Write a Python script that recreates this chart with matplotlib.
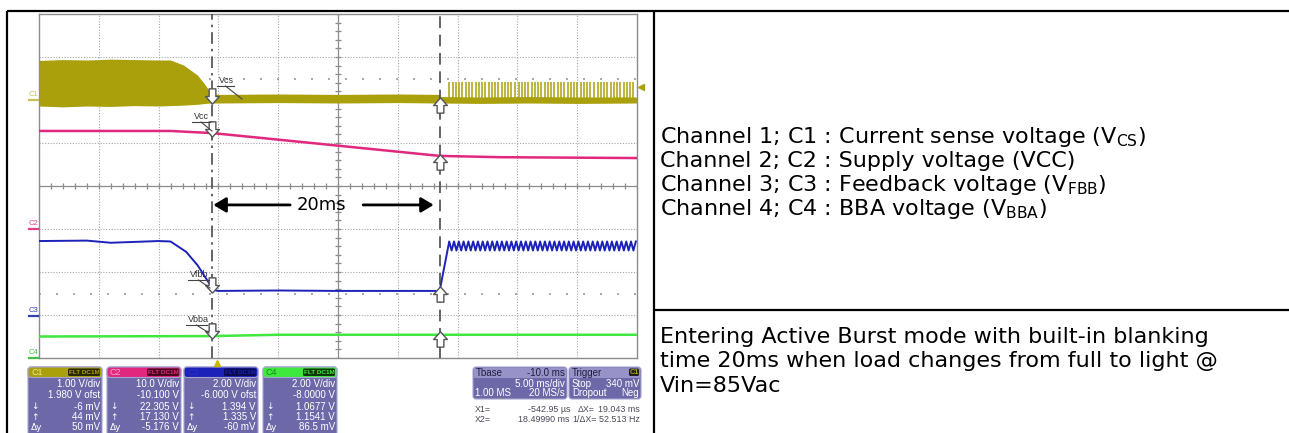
import numpy as np
import matplotlib.pyplot as plt
from matplotlib.path import Path
from matplotlib.patches import FancyBboxPatch, Rectangle

# scope screen: time in ms (5 ms/div, 10 div), levels in screen divisions (8 div)
t_left, t_right = -15.0, 35.0
x1_cursor, x2_cursor = -0.543, 18.5

# C1 current sense, envelope of the switching band
c1_t = [-15, -13, -11, -9, -7, -5, -4.0, -2.9, -1.75, -1.1, -0.6, 0, 5, 10, 15, 18.5]
c1_hi = [2.92, 2.94, 2.93, 2.95, 2.94, 2.93, 2.93, 2.81, 2.58, 2.35, 2.15, 2.13, 2.14, 2.13, 2.14, 2.13]
c1_lo = [1.86, 1.84, 1.86, 1.85, 1.87, 1.86, 1.87, 1.88, 1.90, 1.92, 1.93, 1.93, 1.94, 1.93, 1.94, 1.93]
c1b_t = [18.5, 22, 26, 30, 35]
c1b_hi = [2.08, 2.07, 2.08, 2.07, 2.07]
c1b_lo = [1.93, 1.92, 1.93, 1.92, 1.93]
spike_t = [19.3, 19.6, 19.85, 20.1, 20.4, 20.7, 20.95, 21.2, 21.5, 21.8, 22.05, 22.3,
           22.6, 22.9, 23.15, 23.4, 23.7, 24.0, 24.25, 24.5, 24.8, 25.1, 25.35, 25.6,
           25.9, 26.2, 26.45, 26.7, 27.0, 27.3, 27.55, 27.8, 28.1, 28.4, 28.65, 28.9,
           29.2, 29.5, 29.75, 30.0, 30.3, 30.6, 30.85, 31.1, 31.4, 31.7, 31.95, 32.2,
           32.5, 32.8, 33.05, 33.3, 33.6, 33.9, 34.15, 34.4, 34.7]
spike_base, spike_top = 2.05, 2.42

# C2 supply voltage
c2_t = [-15, -4, -0.5, 3.5, 8.5, 13.5, 18.5, 23.5, 35]
c2_v = [1.28, 1.28, 1.23, 1.12, 0.98, 0.84, 0.70, 0.67, 0.65]

# C3 feedback voltage
c3_t = [-15, -11, -9, -7, -5, -4, -2.7, -1.75, -1.1, -0.4, 0, 5, 10, 15, 18.5]
c3_v = [-1.28, -1.27, -1.32, -1.30, -1.28, -1.29, -1.53, -1.84, -2.12, -2.42, -2.44,
        -2.43, -2.44, -2.44, -2.44]
saw_peak_t = [19.3, 19.7, 20.1, 20.5, 20.9, 21.3, 21.7, 22.1, 22.5, 22.9, 23.3, 23.7,
              24.1, 24.5, 24.9, 25.3, 25.7, 26.1, 26.5, 26.9, 27.3, 27.7, 28.1, 28.5,
              28.9, 29.3, 29.7, 30.1, 30.5, 30.9, 31.3, 31.7, 32.1, 32.5, 32.9, 33.3,
              33.7, 34.1, 34.5, 34.9]
saw_trough_t = [19.5, 19.9, 20.3, 20.7, 21.1, 21.5, 21.9, 22.3, 22.7, 23.1, 23.5, 23.9,
                24.3, 24.7, 25.1, 25.5, 25.9, 26.3, 26.7, 27.1, 27.5, 27.9, 28.3, 28.7,
                29.1, 29.5, 29.9, 30.3, 30.7, 31.1, 31.5, 31.9, 32.3, 32.7, 33.1, 33.5,
                33.9, 34.3, 34.7]
saw_hi, saw_lo = -1.29, -1.50

# C4 BBA voltage
c4_t = [-15, -0.5, 5, 35]
c4_v = [-3.50, -3.49, -3.46, -3.46]

# cursor arrow marks (levels per channel)
down_marks = [2.09, 1.33, -2.30, -3.37]
up_marks = [1.88, 0.56, -2.51, -3.56]

ch_colors = ['#aaa00c', '#e0287e', '#1c22b8', '#3ee83e']
ch_names = ['C1', 'C2', 'C3', 'C4']
ch_rows = [['1.00 V/div', '1.980 V ofst', '-6 mV', '44 mV', '50 mV'],
           ['10.0 V/div', '-10.100 V', '22.305 V', '17.130 V', '-5.176 V'],
           ['2.00 V/div', '-6.000 V ofst', '1.394 V', '1.335 V', '-60 mV'],
           ['2.00 V/div', '-8.0000 V', '1.0677 V', '1.1541 V', '86.5 mV']]

desc_lines = [r'Channel 1; C1 : Current sense voltage (V$_{\mathrm{CS}}$)',
              'Channel 2; C2 : Supply voltage (VCC)',
              r'Channel 3; C3 : Feedback voltage (V$_{\mathrm{FBB}}$)',
              r'Channel 4; C4 : BBA voltage (V$_{\mathrm{BBA}}$)']
note_lines = ['Entering Active Burst mode with built-in blanking',
              'time 20ms when load changes from full to light @',
              'Vin=85Vac']

plt.rcParams['mathtext.fontset'] = 'dejavusans'

W, H = 1289, 433
fig = plt.figure(figsize=(W / 100, H / 100), dpi=100)
fig.patch.set_facecolor('white')

# scope screen axes (pixel box 39..637 x 14..358)
ax = fig.add_axes([39 / W, (H - 358) / H, 598 / W, 344 / H], zorder=1)
ax.set_xlim(t_left, t_right)
ax.set_ylim(-4, 4)
ax.set_xticks([])
ax.set_yticks([])
for s in ax.spines.values():
    s.set_color('#8c8c8c')
    s.set_linewidth(1)

gridc = '#a4a4a4'
for t in np.arange(t_left + 5, t_right, 5):
    if t != 10:
        ax.axvline(t, color=gridc, lw=0.8, ls=(0, (1, 1.5)), zorder=0)
for d in range(-3, 4):
    if d != 0:
        ax.axhline(d, color=gridc, lw=0.8, ls=(0, (1, 1.5)), zorder=0)
ax.axhline(0, color='#8c8c8c', lw=0.9, zorder=0)
ax.axvline(10, color='#8c8c8c', lw=0.9, zorder=0)
ax.vlines(np.arange(t_left, t_right + 0.01, 1), -0.07, 0.07, color='#8c8c8c', lw=0.9, zorder=0)
ax.hlines(np.arange(-4, 4.01, 0.2), 9.75, 10.25, color='#8c8c8c', lw=0.9, zorder=0)
ax.axhline(2.49, color='#9a9a9a', lw=1.2, ls=(0, (1.2, 9)), zorder=0)
ax.axhline(-2.51, color='#9a9a9a', lw=1.2, ls=(0, (1.2, 9)), zorder=0)

# traces
ax.fill_between(c1_t, c1_lo, c1_hi, color=ch_colors[0], lw=0, zorder=2)
ax.fill_between(c1b_t, c1b_lo, c1b_hi, color=ch_colors[0], lw=0, zorder=2)
ax.vlines(spike_t, spike_base, spike_top, color=ch_colors[0], lw=1.1, zorder=2)
ax.plot(c2_t, c2_v, color=ch_colors[1], lw=1.8, zorder=3)
saw_t = np.concatenate([saw_peak_t, saw_trough_t])
saw_v = np.concatenate([np.full(len(saw_peak_t), saw_hi), np.full(len(saw_trough_t), saw_lo)])
order = np.argsort(saw_t)
ax.plot(np.concatenate([c3_t, saw_t[order]]), np.concatenate([c3_v, saw_v[order]]),
        color=ch_colors[2], lw=1.4, zorder=3)
ax.plot(c4_t, c4_v, color=ch_colors[3], lw=1.8, zorder=3)

# cursors
ax.axvline(x1_cursor, color='#4a4a4a', lw=1.2, ls=(0, (7, 3, 1.5, 3)), zorder=4)
ax.axvline(x2_cursor, color='#4a4a4a', lw=1.2, ls=(0, (7, 4)), zorder=4)

codes = [Path.MOVETO] + [Path.LINETO] * 6 + [Path.CLOSEPOLY]
down_arrow = Path([(-0.22, 0.5), (0.22, 0.5), (0.22, 0.0), (0.45, 0.0), (0, -0.5),
                   (-0.45, 0.0), (-0.22, 0.0), (-0.22, 0.5)], codes)
up_arrow = Path([(-0.22, -0.5), (0.22, -0.5), (0.22, 0.0), (0.45, 0.0), (0, 0.5),
                 (-0.45, 0.0), (-0.22, 0.0), (-0.22, -0.5)], codes)
ax.plot([x1_cursor] * 4, down_marks, ls='none', marker=down_arrow, ms=11,
        mfc='white', mec='#555555', mew=1, zorder=6)
ax.plot([x2_cursor] * 4, up_marks, ls='none', marker=up_arrow, ms=11,
        mfc='white', mec='#555555', mew=1, zorder=6)

# 20 ms blanking annotation
arrow_kw = dict(arrowstyle='-|>,head_length=0.5,head_width=0.3', lw=2, color='black',
                mutation_scale=15, shrinkA=0, shrinkB=0)
ax.annotate('', xy=(-0.42, -0.44), xytext=(6.0, -0.44), arrowprops=arrow_kw, zorder=7)
ax.annotate('', xy=(18.0, -0.44), xytext=(12.1, -0.44), arrowprops=arrow_kw, zorder=7)
ax.text(8.6, -0.44, '20ms', ha='center', va='center', fontsize=13, zorder=7)

# overlay in pixel coordinates for table, labels and info panels
ov = fig.add_axes([0, 0, 1, 1], zorder=2)
ov.set_xlim(0, W)
ov.set_ylim(H, 0)
ov.axis('off')
ov.patch.set_alpha(0)

for xs, ys in [([7, W], [11, 11]), ([7, 7], [11, H]), ([654, 654], [11, H]),
               ([654, W], [310, 310])]:
    ov.plot(xs, ys, color='black', lw=1.6, solid_capstyle='butt')

# channel ground markers on the left of the screen
for name, col, y in zip(ch_names, ['#c8bf50', '#e0408a', '#3040b0', '#40c040'], [100, 229, 316, 358]):
    ov.text(29, y - 2, name, fontsize=5.5, color=col, ha='left', va='bottom',
            family='Liberation Sans')
    ov.plot([29, 38], [y, y], color=col, lw=1.6)

# trace labels with leader lines
for txt, (tx, ty), (ux0, ux1), end in [('Vcs', (219, 85), (217, 234), (242, 99)),
                                        ('Vcc', (194, 121), (192, 210), (212, 131)),
                                        ('Vfbb', (190, 279), (188, 209), (210, 288)),
                                        ('Vbba', (188, 324), (186, 207), (209, 333))]:
    ov.text(tx, ty, txt, fontsize=6.5, color='#333333', ha='left', va='bottom',
            family='Liberation Sans')
    ov.plot([ux0, ux1], [ty + 1, ty + 1], color='#444444', lw=0.8)
    ov.plot([(ux0 + ux1) / 2, end[0]], [ty + 1, end[1]], color='#444444', lw=0.8)

ov.plot(641, 87, marker='<', color=ch_colors[0], ms=5, ls='none')
ov.plot(217, 363, marker='^', color='#c9b800', ms=5, ls='none')

# channel info panels
panel_x = [28, 107, 184, 263]
badge_bg = ['#2a2800', '#4a0820', '#0a0a50', '#0a3a0a']
head_txt = ['#ece59a', '#f7a8cc', '#3030c8', '#1a8a1a']
body = '#6d69a9'
for x0, name, col, bg, htc, rows in zip(panel_x, ch_names, ch_colors, badge_bg, head_txt, ch_rows):
    ov.add_patch(FancyBboxPatch((x0, 367), 74, 80, boxstyle='round,pad=0,rounding_size=3',
                                fc=body, ec='#a6a4cf', lw=0.8))
    ov.add_patch(FancyBboxPatch((x0, 367), 74, 10.5, boxstyle='round,pad=0,rounding_size=3',
                                fc=col, ec='#a6a4cf', lw=0.8))
    ov.text(x0 + 3, 372.5, name, fontsize=6.5, color=htc, va='center', ha='left',
            family='Liberation Sans')
    ov.add_patch(FancyBboxPatch((x0 + 40, 368.5), 32, 7.5, boxstyle='round,pad=0,rounding_size=1.5',
                                fc=bg, ec='none'))
    ov.text(x0 + 56, 372.5, 'FLT DC1M', fontsize=4.6, color=col, va='center', ha='center',
            family='Liberation Sans', weight='bold')
    for i, (r, y) in enumerate(zip(rows, [384, 395.5, 406.5, 417, 427.5])):
        ov.text(x0 + 72, y, r, fontsize=7, color='white', va='center', ha='right',
                family='Liberation Sans')
        if i >= 2:
            ov.text(x0 + 3, y, ['\u2193', '\u2191', '\u0394y'][i - 2], fontsize=6.5,
                    color='white', va='center', ha='left', family='DejaVu Sans')

# timebase and trigger panels
for bx, bw in [(473, 94), (569, 72)]:
    ov.add_patch(FancyBboxPatch((bx, 367), bw, 32, boxstyle='round,pad=0,rounding_size=3',
                                fc=body, ec='#a6a4cf', lw=0.8))
    ov.add_patch(Rectangle((bx + 1, 367.5), bw - 2, 10, fc='#9793c9', ec='none'))
tb_kw = dict(fontsize=7, va='center', family='Liberation Sans')
ov.text(476, 372.5, 'Tbase', color='#1e1e40', ha='left', **tb_kw)
ov.text(565, 372.5, '-10.0 ms', color='#1e1e40', ha='right', **tb_kw)
ov.text(565, 384, '5.00 ms/div', color='white', ha='right', **tb_kw)
ov.text(475, 393.5, '1.00 MS', color='white', ha='left', **tb_kw)
ov.text(565, 393.5, '20 MS/s', color='white', ha='right', **tb_kw)
ov.text(572, 372.5, 'Trigger', color='#1e1e40', ha='left', **tb_kw)
ov.add_patch(FancyBboxPatch((629, 368.5), 10, 7.5, boxstyle='round,pad=0,rounding_size=1.5',
                            fc='#202020', ec='none'))
ov.text(634, 372.5, 'C1', color=ch_colors[0], ha='center', fontsize=5.3, va='center',
        family='Liberation Sans', weight='bold')
ov.text(572, 384, 'Stop', color='white', ha='left', **tb_kw)
ov.text(639, 384, '340 mV', color='white', ha='right', **tb_kw)
ov.text(572, 393.5, 'Dropout', color='white', ha='left', **tb_kw)
ov.text(639, 393.5, 'Neg', color='white', ha='right', **tb_kw)
cur_kw = dict(fontsize=6.4, va='center', color='#4a4a5a', family='Liberation Sans')
ov.text(475, 409, 'X1=', ha='left', **cur_kw)
ov.text(570, 409, '-542.95 \u00b5s', ha='right', **cur_kw)
ov.text(578, 409, '\u0394X=', ha='left', **cur_kw)
ov.text(640, 409, '19.043 ms', ha='right', **cur_kw)
ov.text(475, 420, 'X2=', ha='left', **cur_kw)
ov.text(570, 420, '18.49990 ms', ha='right', **cur_kw)
ov.text(572, 420, '1/\u0394X=', ha='left', **cur_kw)
ov.text(640, 420, '52.513 Hz', ha='right', **cur_kw)

# description cell on the right
for line, y in zip(desc_lines, [143, 167, 191, 215]):
    ov.text(660, y, line, fontsize=16, ha='left', va='baseline', family='DejaVu Sans')
for line, y in zip(note_lines, [343, 367, 392]):
    ov.text(660, y, line, fontsize=16, ha='left', va='baseline', family='DejaVu Sans')

fig.savefig('out.png', dpi=100)
